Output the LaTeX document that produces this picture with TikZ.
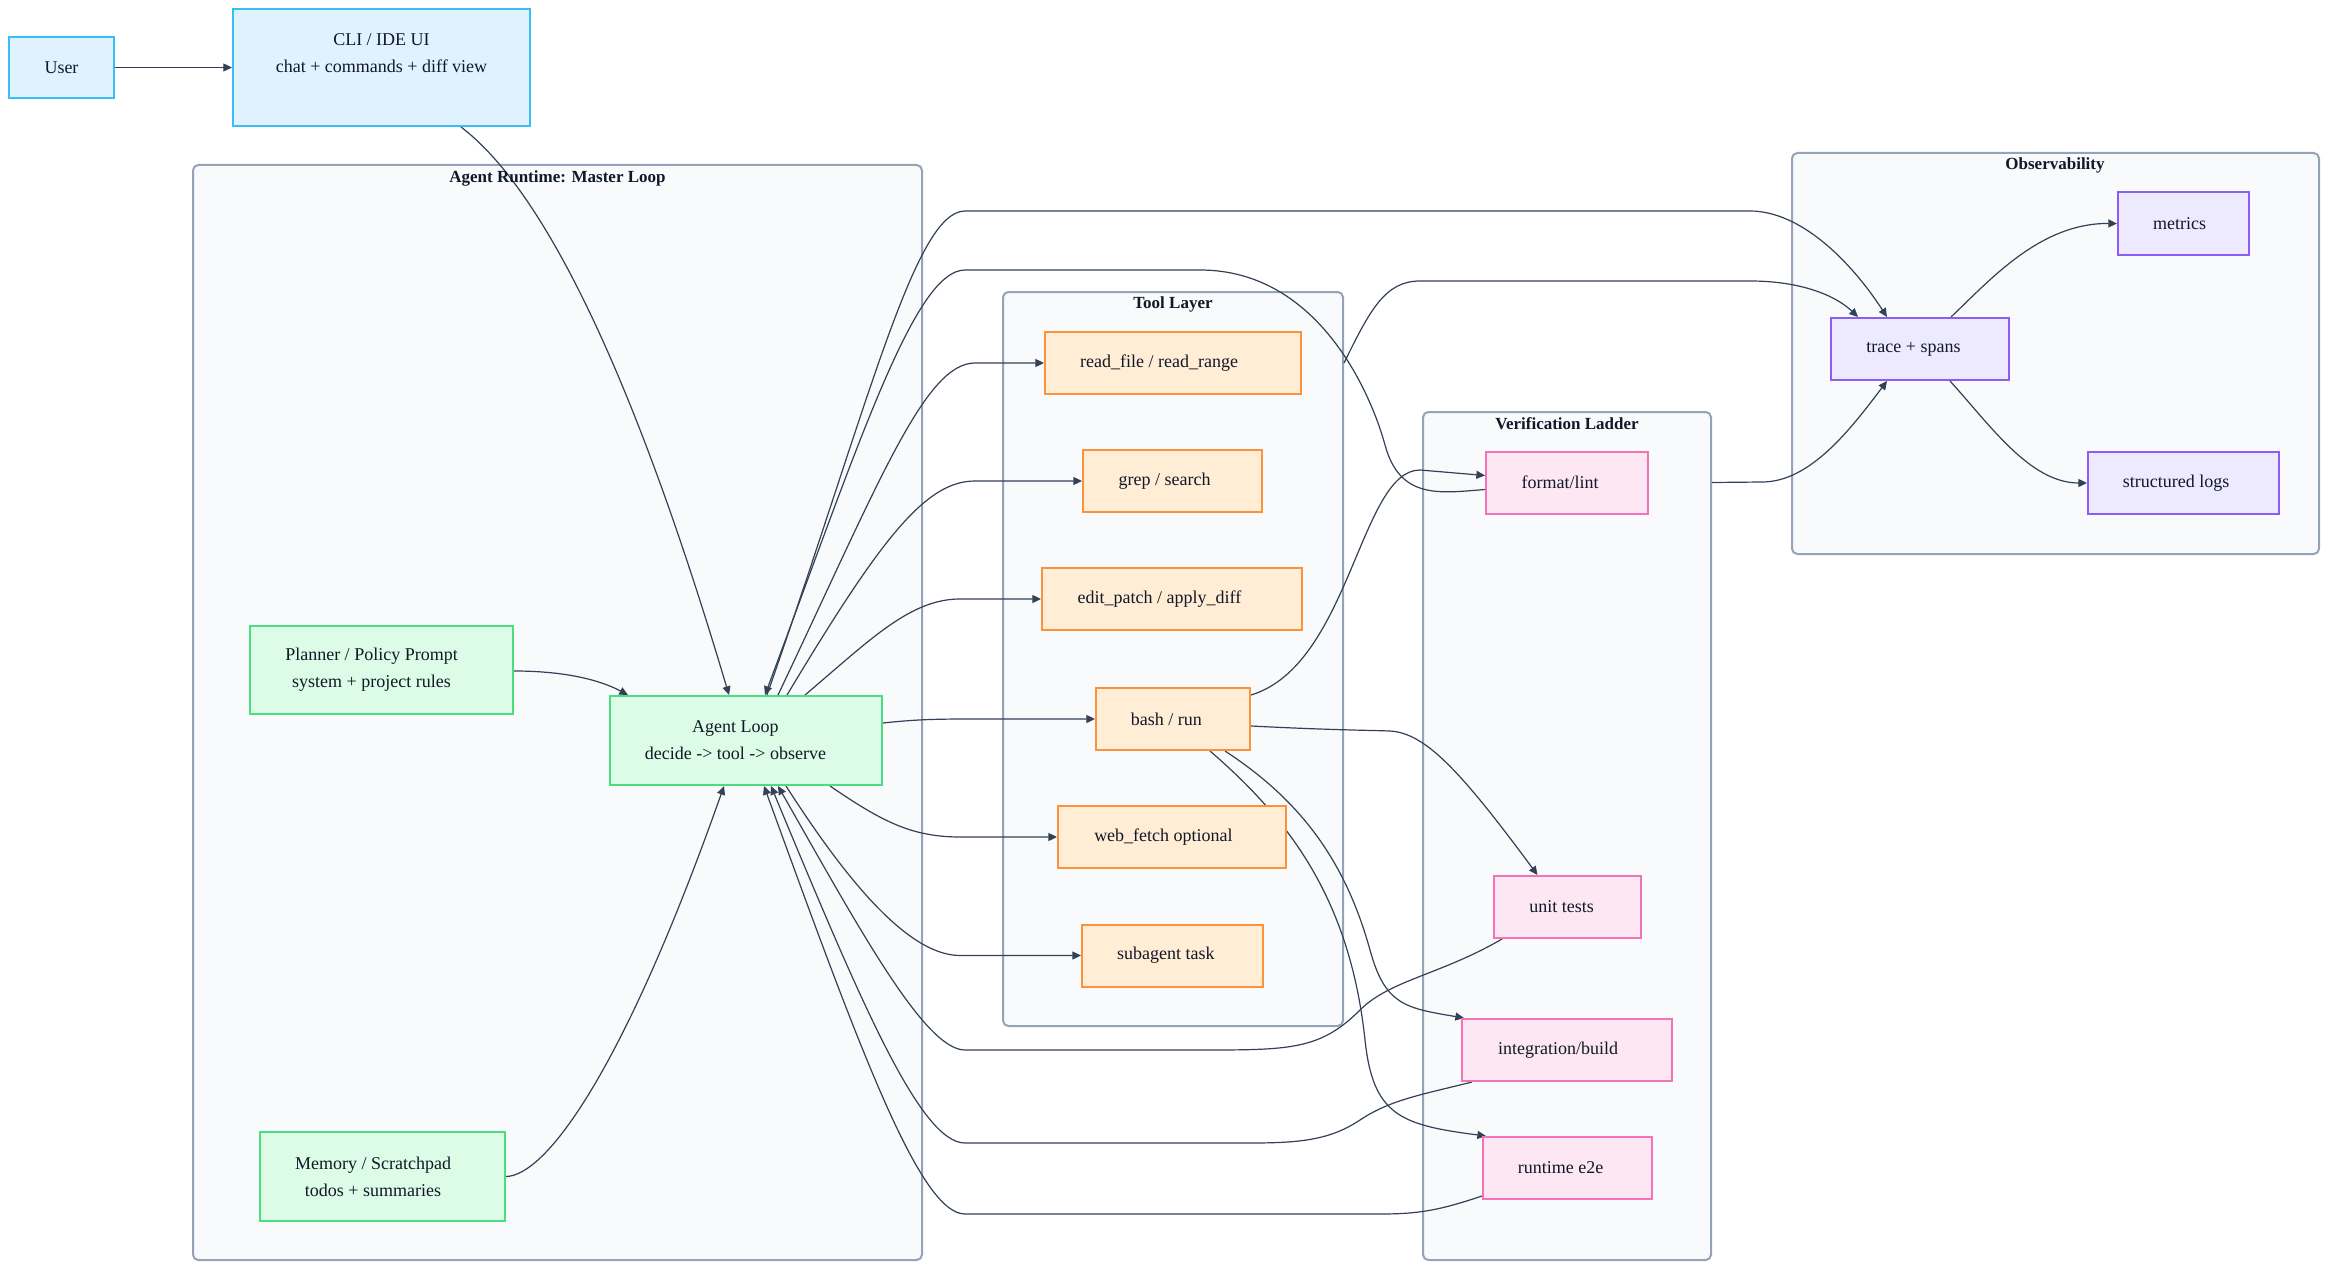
\documentclass[tikz,border=0pt]{standalone}
\usepackage{fontspec}
\setmainfont{Liberation Serif}
\usetikzlibrary{arrows.meta,calc,fit}
\definecolor{bluefill}{HTML}{E0F2FE}
\definecolor{bluestroke}{HTML}{38BDF8}
\definecolor{greenfill}{HTML}{DCFCE7}
\definecolor{greenstroke}{HTML}{4ADE80}
\definecolor{orangefill}{HTML}{FFEDD5}
\definecolor{orangestroke}{HTML}{FB923C}
\definecolor{pinkfill}{HTML}{FCE7F3}
\definecolor{pinkstroke}{HTML}{F472B6}
\definecolor{purplefill}{HTML}{EDE9FE}
\definecolor{purplestroke}{HTML}{8B5CF6}
\definecolor{clfill}{HTML}{F8FAFC}
\definecolor{clstroke}{HTML}{94A3B8}
\definecolor{edgec}{HTML}{334155}
\definecolor{txt}{HTML}{111827}
\pgfdeclarelayer{bg}
\pgfdeclarelayer{edges}
\pgfsetlayers{bg,edges,main}
\tikzset{
  mw/.style={minimum width=#1*0.75pt},
  mh/.style={minimum height=#1*0.75pt},
  lbl/.style={align=center, text=txt, inner sep=0pt, font=\fontsize{13.5}{20.25}\selectfont},
  box/.style={draw, line width=1.5pt, inner sep=0pt, align=center, text=txt,
    font=\fontsize{13.5}{20.25}\selectfont},
  bluebox/.style={box, draw=bluestroke, fill=bluefill},
  greenbox/.style={box, draw=greenstroke, fill=greenfill},
  orangebox/.style={box, draw=orangestroke, fill=orangefill},
  pinkbox/.style={box, draw=pinkstroke, fill=pinkfill},
  purplebox/.style={box, draw=purplestroke, fill=purplefill},
  cluster/.style={draw=clstroke, fill=clfill, line width=1.5pt, rounded corners=4pt, inner sep=0pt},
  ctitle/.style={font=\bfseries\fontsize{12.75}{15}\selectfont, text=txt, inner sep=0pt},
  edge/.style={draw=edgec, line width=0.9pt, -{Triangle[length=6.5pt,width=6pt]}},
}
\begin{document}
\begin{tikzpicture}[x=0.75pt,y=-0.75pt]
\useasboundingbox (0,0) rectangle (2352,1284);
\begin{pgfonlayer}{bg}
\fill[white] (0,0) rectangle (2352,1284);
\node[cluster, fit={(193,165) (922,1260)}] (runtime) {};
\node[cluster, fit={(1003,292) (1343,1026)}] (tools) {};
\node[cluster, fit={(1423,412) (1711,1260)}] (verify) {};
\node[cluster, fit={(1792,153) (2319,554)}] (obs) {};
\end{pgfonlayer}

\node[ctitle] (runtimetitle) at (557.5,178) {Agent Runtime: Master Loop};
\node[ctitle] (toolstitle) at (1173,304) {Tool Layer};
\node[ctitle] (verifytitle) at (1567,424) {Verification Ladder};
\node[ctitle] (obstitle) at (2055,165) {Observability};

\node[bluebox, mw=105, mh=61] (user) at (61.5,67.5) {User};
\node[bluebox, mw=297, mh=117] (cli) at (381.5,67.5) {};
\node[lbl] (clitext) at (381.5,53.5) {CLI / IDE UI\\chat + commands + diff view};

\node[greenbox, mw=263, mh=88, label={[lbl,xshift=-7.5pt]center:{Planner / Policy Prompt\\system + project rules}}] (planner) at (381.5,670) {};
\node[greenbox, mw=272, mh=89, label={[lbl,xshift=-7.9pt]center:{Agent Loop\\decide -> tool -> observe}}] (loop) at (746,740.5) {};
\node[greenbox, mw=245, mh=89, label={[lbl,xshift=-7.1pt]center:{Memory / Scratchpad\\todos + summaries}}] (memory) at (382.5,1176.5) {};

\node[orangebox, mw=256, mh=62, label={[lbl,xshift=-10.5pt]center:{read\_file / read\_range}}] (readf) at (1173,363) {};
\node[orangebox, mw=179, mh=62, label={[lbl,xshift=-6pt]center:{grep / search}}] (grep) at (1172.5,481) {};
\node[orangebox, mw=260, mh=62, label={[lbl,xshift=-9.4pt]center:{edit\_patch / apply\_diff}}] (edit) at (1172,599) {};
\node[orangebox, mw=154, mh=62, label={[lbl,xshift=-4.9pt]center:{bash / run}}] (bash) at (1173,719) {};
\node[orangebox, mw=228, mh=62, label={[lbl,xshift=-6.4pt]center:{web\_fetch optional}}] (web) at (1172,837) {};
\node[orangebox, mw=181, mh=62, label={[lbl,xshift=-4.9pt]center:{subagent task}}] (sub) at (1172.5,955.5) {};

\node[pinkbox, mw=162, mh=62, label={[lbl,xshift=-5.25pt]center:{format/lint}}] (lint) at (1567,482.5) {};
\node[pinkbox, mw=147, mh=62, label={[lbl,xshift=-4.5pt]center:{unit tests}}] (unit) at (1567.5,907) {};
\node[pinkbox, mw=210, mh=62, label={[lbl,xshift=-6.75pt]center:{integration/build}}] (integ) at (1567,1050) {};
\node[pinkbox, mw=169, mh=62, label={[lbl,xshift=-5.25pt]center:{runtime e2e}}] (e2e) at (1567.5,1168) {};

\node[purplebox, mw=131, mh=63, label={[lbl,xshift=-3pt]center:{metrics}}] (metrics) at (2183.5,223.5) {};
\node[purplebox, mw=178, mh=62, label={[lbl,xshift=-4.9pt]center:{trace + spans}}] (trace) at (1920,349) {};
\node[purplebox, mw=191, mh=62, label={[lbl,xshift=-5.6pt]center:{structured logs}}] (logs) at (2183.5,483) {};

\begin{pgfonlayer}{edges}
\draw[edge] (user.east) -- (cli.west);
\draw[edge] ($(cli.south)+(79.5,0)$) .. controls (570,210) and (665,480) .. ($(loop.north)+(-17,0)$);
\draw[edge] ($(planner.east)+(0,1)$) .. controls (565,671) and (600,680) .. ($(loop.north)+(-118,0)$);
\draw[edge] (memory.east) .. controls (545,1176) and (622,1075) .. ($(loop.south)+(-22,0)$);

\draw[edge] ($(loop.north)+(32,0)$) .. controls (880,480) and (925,363) .. (975,363) -- (readf.west);
\draw[edge] ($(loop.north)+(41,0)$) .. controls (880,540) and (925,481) .. (975,481) -- (grep.west);
\draw[edge] ($(loop.north)+(59,0)$) .. controls (870,640) and (910,599) .. (960,599) -- (edit.west);
\draw[edge] ($(loop.east)+(0,-17.5)$) .. controls (920,719) and (940,719) .. (980,719) -- (bash.west);
\draw[edge] ($(loop.south)+(84,0)$) .. controls (880,820) and (910,837) .. (960,837) -- (web.west);
\draw[edge] ($(loop.south)+(40,0)$) .. controls (840,870) and (905,955.5) .. (960,955.5) -- (sub.west);

\draw[edge] ($(bash.east)+(0,-24)$) .. controls (1350,665) and (1360,470) .. (1420,470) -- ($(lint.west)+(0,-7)$);
\draw[edge] ($(bash.east)+(0,7)$) .. controls (1330,730) and (1360,730) .. (1390,731) .. controls (1425,733) and (1460,770) .. ($(unit.north)+(-30,0)$);
\draw[edge] ($(bash.south)+(52,0)$) .. controls (1300,800) and (1345,860) .. (1370,950) .. controls (1385,1005) and (1405,1008) .. ($(integ.north west)+(3,0)$);
\draw[edge] ($(bash.south)+(37,0)$) .. controls (1290,820) and (1350,900) .. (1365,1040) .. controls (1373,1115) and (1400,1125) .. ($(e2e.north west)+(4,0)$);

\draw[edge] ($(lint.west)+(0,7)$) .. controls (1440,493) and (1400,500) .. (1385,445) .. controls (1372,397) and (1320,270) .. (1200,270) -- (965,270) .. controls (915,270) and (860,440) .. ($(loop.north)+(19,0)$);
\draw[edge] ($(unit.south west)+(9,0)$) .. controls (1440,975) and (1390,980) .. (1360,1010) .. controls (1320,1050) and (1290,1050) .. (1200,1050) -- (965,1050) .. controls (925,1050) and (860,930) .. ($(loop.south)+(32,0)$);
\draw[edge] ($(integ.south west)+(11,0)$) .. controls (1420,1095) and (1390,1100) .. (1360,1120) .. controls (1330,1140) and (1300,1143) .. (1250,1143) -- (965,1143) .. controls (920,1143) and (860,1000) .. ($(loop.south)+(25,0)$);
\draw[edge] ($(e2e.west)+(0,28)$) .. controls (1440,1210) and (1420,1214) .. (1380,1214) -- (965,1214) .. controls (920,1214) and (860,1050) .. ($(loop.south)+(18,0)$);

\draw[edge] ($(loop.north)+(21,0)$) .. controls (870,400) and (915,211) .. (965,211) -- (1750,211) .. controls (1800,211) and (1850,260) .. ($(trace.north)+(-33,0)$);
\draw[edge] (tools.east |- readf.center) .. controls (1370,310) and (1385,281) .. (1420,281) -- (1750,281) .. controls (1800,281) and (1835,295) .. ($(trace.north)+(-62,0)$);
\draw[edge] (verify.east |- lint.center) -- (1762,482) .. controls (1810,482) and (1850,430) .. ($(trace.south)+(-33,0)$);
\draw[edge] ($(trace.north)+(31,0)$) .. controls (1990,280) and (2040,223) .. (metrics.west);
\draw[edge] ($(trace.south)+(30,0)$) .. controls (1990,425) and (2030,483) .. (logs.west);
\end{pgfonlayer}
\end{tikzpicture}
\end{document}
